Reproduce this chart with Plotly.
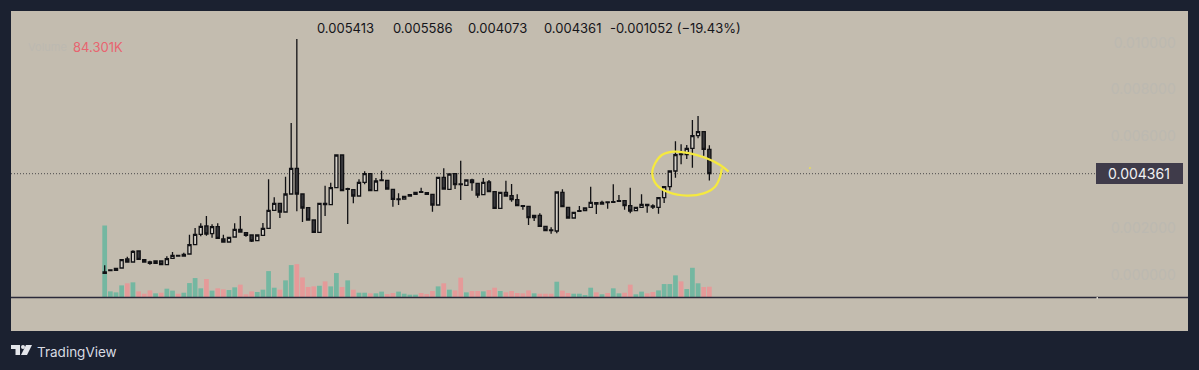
import plotly.graph_objects as go

W, H = 1199, 370
# Prices in thousandths (0.001 = 1.0)
open_m = [0.124,0.210,0.196,0.297,0.685,0.555,1.029,0.656,0.555,0.498,0.598,0.440,0.713,0.843,0.886,0.900,1.302,1.748,2.107,1.777,
          2.078,1.547,1.417,1.633,1.963,1.820,1.719,1.475,1.705,2.006,2.782,3.084,2.710,3.486,4.593,3.486,2.897,2.366,1.834,3.084,
          3.027,3.759,5.167,3.716,3.673,3.400,3.989,4.363,3.630,4.090,4.075,3.687,3.271,3.271,3.400,3.558,3.587,3.544,3.472,3.012,
          4.205,3.687,4.363,3.917,3.860,4.090,3.946,3.458,4.004,3.587,2.869,3.558,3.415,3.242,2.983,2.955,2.466,2.567,2.093,1.935,
          1.892,3.558,2.911,2.451,2.767,2.767,2.911,3.112,3.055,3.141,3.127,3.198,3.198,2.983,2.767,2.911,3.040,2.968,2.911,3.328,
          3.802,4.477,5.210,5.181,5.454,6.000,6.173,5.413]
high_m = [0.412,0.210,0.282,0.656,0.785,1.058,1.058,0.656,0.613,0.598,0.598,0.800,0.986,0.843,0.958,1.733,2.021,2.222,2.538,2.179,
          2.222,1.733,1.619,2.222,2.538,1.820,1.719,1.719,2.236,4.119,3.343,3.084,4.233,6.547,10.168,3.515,2.897,2.366,3.084,3.846,
          3.975,5.167,5.167,3.759,3.673,4.119,4.463,4.363,4.176,4.492,4.075,3.687,3.515,3.386,3.458,3.558,3.759,3.544,3.472,4.205,
          4.593,4.348,4.363,4.923,4.090,4.147,3.946,4.176,4.090,3.587,3.558,4.061,3.917,3.472,2.983,2.955,2.567,2.653,2.093,2.050,
          3.572,3.687,2.911,2.696,2.968,2.882,3.802,3.112,3.198,3.141,3.902,3.443,3.198,3.759,2.911,3.471,3.040,3.040,3.328,3.802,
          4.477,5.756,5.627,5.598,6.675,6.848,6.173,5.586]
low_m = [0.067,0.182,0.196,0.297,0.555,0.555,0.670,0.555,0.440,0.498,0.440,0.440,0.713,0.814,0.814,0.871,1.302,1.662,1.690,1.604,
         1.547,1.389,1.389,1.633,1.820,1.647,1.417,1.446,1.705,2.006,2.782,2.452,2.710,3.486,2.739,2.279,2.340,1.834,1.834,2.538,
         3.027,3.759,3.630,2.193,3.084,3.400,3.903,3.630,3.630,4.061,3.702,2.940,3.012,3.271,3.400,3.472,3.558,3.472,2.725,3.012,
         3.702,3.687,3.702,3.228,3.860,3.630,3.328,3.458,3.587,2.869,2.869,3.400,3.156,2.983,2.811,2.150,2.323,2.093,1.906,1.777,
         1.791,2.940,2.451,2.451,2.739,2.767,2.911,2.624,3.055,2.854,3.127,3.170,2.810,2.652,2.767,2.911,2.681,2.839,2.638,3.098,
         3.644,4.190,4.764,4.994,4.621,5.885,5.138,4.073]
close_m = [0.067,0.182,0.282,0.656,0.555,1.015,0.670,0.555,0.498,0.598,0.440,0.699,0.843,0.814,0.814,1.302,1.748,2.093,1.762,2.078,
           1.575,1.417,1.619,1.963,1.848,1.705,1.460,1.719,2.006,2.782,3.084,2.710,3.486,4.593,3.486,2.883,2.366,1.834,3.084,3.027,
           3.759,5.167,3.630,3.687,3.400,3.989,4.363,3.630,4.047,4.061,3.702,3.256,3.242,3.386,3.458,3.472,3.558,3.472,3.012,4.205,
           3.702,4.348,3.889,3.889,4.090,3.975,3.443,3.989,3.587,2.869,3.558,3.400,3.242,2.983,2.955,2.466,2.567,2.093,1.906,1.906,
           3.572,2.940,2.451,2.696,2.739,2.882,3.127,3.055,3.127,3.112,3.155,3.170,2.983,2.753,2.911,3.040,2.983,2.925,3.328,3.802,
           4.477,5.181,5.181,5.454,6.000,6.173,5.411,4.361]
volume_k = [585,46,38,95,112,120,46,27,54,30,35,68,52,27,35,114,155,71,147,52,
            71,63,57,79,101,22,46,41,60,212,76,60,136,261,269,160,82,87,92,128,
            87,196,82,136,60,35,35,30,30,44,24,33,44,27,19,19,33,24,49,87,
            112,60,54,158,38,49,49,46,57,76,49,38,49,33,30,54,30,27,27,27,
            125,52,33,27,27,16,76,38,22,33,71,30,35,101,22,44,30,41,54,106,
            106,177,128,65,239,112,82,84.301]
volume_dir = list("ggggrgrrrgrggrggggrgrrggrrrggggrggrrrrgr"
                  "ggrgrggrggrrggggrrrgrgrrgrrgrrgrrrrrgrrrg"
                  "rrggggrgrggrrggrrggggrgggrr")
y_tick_vals = [0.010, 0.008, 0.006, 0.002, 0.0]
y_tick_text = ["0.010000", "0.008000", "0.006000", "0.002000", "0.000000"]
ohlc_text = ["0.005413", "0.005586", "0.004073", "0.004361", "-0.001052 (\u221219.43%)"]
ohlc_left_px = [315, 391, 466, 542, 608]
last_price = 0.004361
# Hand-drawn yellow circle: bar index, price in thousandths
circle_x = [110.4,108.9,106.5,103.6,100.6,98.6,97.4,96.9,97.7,99.8,103.0,106.0,108.0,108.9,109.2]
circle_y = [4.448,4.736,5.023,5.239,5.311,5.167,4.808,4.377,3.874,3.558,3.414,3.514,3.802,4.233,4.592]
dot_x = [124.8]
dot_y = [4.607]

BG, PANEL = "#1b2130", "#c3bcaf"
FAINT = "#bcb9b1"
px = lambda v: v / W
py = lambda v: 1 - v / H
idx = list(range(len(open_m)))
m = lambda a: [v / 1000 for v in a]

fig = go.Figure()
# Volume sits on the base axis so that the candles (second axis) are drawn over it
fig.add_trace(go.Bar(
    x=idx, y=volume_k, width=0.84,
    marker=dict(color=["#74b7a1" if d == "g" else "#e59a99" for d in volume_dir], line_width=0),
    showlegend=False, hoverinfo="skip", xaxis="x", yaxis="y"))
fig.add_trace(go.Candlestick(
    x=idx, open=m(open_m), high=m(high_m), low=m(low_m), close=m(close_m),
    increasing=dict(line=dict(color="#111114", width=1.3), fillcolor="#d5d1c9"),
    decreasing=dict(line=dict(color="#111114", width=1.3), fillcolor="#38383c"),
    whiskerwidth=0, showlegend=False, hoverinfo="skip", xaxis="x", yaxis="y2"))
fig.add_trace(go.Scatter(x=circle_x, y=m(circle_y), mode="lines",
    line=dict(color="#f5e93f", width=2.2, shape="spline", smoothing=1),
    showlegend=False, hoverinfo="skip", xaxis="x", yaxis="y2"))
fig.add_trace(go.Scatter(x=dot_x, y=m(dot_y), mode="markers",
    marker=dict(color="#e8de5a", size=2),
    showlegend=False, hoverinfo="skip", xaxis="x", yaxis="y2"))

def rect(x0, y0, x1, y1, color, layer="below"):
    return dict(type="rect", xref="paper", yref="paper", x0=px(x0), x1=px(x1), y0=py(y0), y1=py(y1),
                fillcolor=color, line_width=0, layer=layer)

def poly(points, color):
    d = "M " + " L ".join(f"{px(a)} {py(b)}" for a, b in points) + " Z"
    return dict(type="path", xref="paper", yref="paper", path=d, fillcolor=color, line_width=0, layer="above")

LOGO = "#e3e5ea"
shapes = [
    rect(11, 11, 1188, 331, PANEL),
    dict(type="line", xref="paper", yref="y2", x0=px(11), x1=px(1097), y0=last_price, y1=last_price,
         line=dict(color="#4b4a4a", width=1, dash="1px,2px"), layer="below"),
    dict(type="line", xref="paper", yref="paper", x0=px(11), x1=px(1188), y0=py(297.5), y1=py(297.5),
         line=dict(color="#2b2a3a", width=1.4), layer="above"),
    rect(1096.5, 297, 1098, 299, "#d8d4cc", "above"),
    rect(1096, 163, 1183, 184, "#3f3b4a", "above"),
    poly([(11, 345), (20, 345), (20, 355), (15.5, 355), (15.5, 349), (11, 349)], LOGO),
    poly([(26, 345), (32, 345), (27, 355), (21, 355)], LOGO),
    dict(type="circle", xref="paper", yref="paper", x0=px(21), x1=px(25), y0=py(349), y1=py(345),
         fillcolor=LOGO, line_width=0, layer="above"),
]

def label(text, x, y, color, size=13, anchor="left"):
    return dict(text=text, xref="paper", yref="paper", x=px(x), y=py(y), xanchor=anchor, yanchor="middle",
                showarrow=False, font=dict(family="Inter, Liberation Sans, sans-serif", color=color, size=size))

annotations = [label(t, x, 28, "#15151a", 13) for t, x in zip(ohlc_text, ohlc_left_px)]
annotations += [
    label("Volume", 26, 47, FAINT, 11),
    label("84.301K", 71, 47, "#e8646f", 13),
    label("0.004361", 1106, 173.5, "#f1f1f3", 14),
    label("TradingView", 35, 351.5, "#d8dbe2", 13.5),
]

fig.update_layout(
    width=W, height=H, margin=dict(l=0, r=0, t=0, b=0),
    paper_bgcolor=BG, plot_bgcolor="rgba(0,0,0,0)",
    font=dict(family="Inter, Liberation Sans, sans-serif"),
    xaxis=dict(domain=[px(11), px(1188)], range=[-16.58, 191.7], rangeslider=dict(visible=False),
               showgrid=False, zeroline=False, showticklabels=False, ticks="", fixedrange=True),
    yaxis=dict(domain=[py(297), py(11)], range=[0, 2340], anchor="x",
               showgrid=False, zeroline=False, showticklabels=False, ticks=""),
    yaxis2=dict(domain=[py(331), py(11)], range=[-0.002419, 0.011374], side="right", anchor="x",
                tickmode="array", tickvals=y_tick_vals, ticktext=y_tick_text,
                tickfont=dict(color=FAINT, size=14), ticklabelposition="inside",
                ticks="inside", ticklen=12, tickcolor="rgba(0,0,0,0)",
                showgrid=False, zeroline=False, showline=False),
    bargap=0.15, boxgap=0.2, shapes=shapes, annotations=annotations)

fig.write_html("out.html", config=dict(displayModeBar=False),
               post_script="document.body.style.margin='0';document.body.style.background='#1b2130';")
